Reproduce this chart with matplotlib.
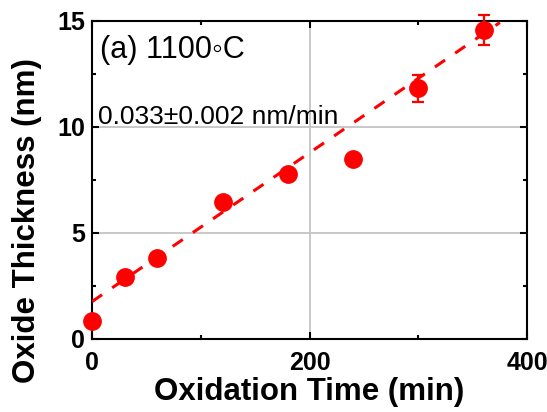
import matplotlib
import matplotlib.pyplot as plt
from matplotlib.ticker import MultipleLocator

matplotlib.use("Agg")

plt.rcParams["font.family"] = ["Liberation Sans", "DejaVu Sans"]

# Oxidation data at 1100 C
time_min = [0, 30, 60, 120, 180, 240, 300, 360]
thickness_nm = [0.83, 2.92, 3.81, 6.42, 7.76, 8.47, 11.8, 14.55]
thickness_err = [0, 0, 0, 0, 0, 0, 0.63, 0.72]

# Linear fit as drawn (intercept, slope), and its extent
fit_intercept = 1.74
fit_slope = 0.0351
fit_x = [0, 375]

fig = plt.figure(figsize=(5.47, 4.12), dpi=100)
ax = fig.add_axes([92 / 547, 1 - 338.5 / 412, 435 / 547, 318 / 412])

fit_y = [fit_intercept + fit_slope * x for x in fit_x]
ax.plot(fit_x, fit_y, color="red", linestyle=(0, (4, 4)), linewidth=2.2, zorder=3)

ax.errorbar(time_min, thickness_nm, yerr=thickness_err, fmt="o", color="red",
            markersize=12.5, elinewidth=1.6, capsize=4.5, capthick=1.6, zorder=4,
            clip_on=False)

ax.set_xlim(0, 400)
ax.set_ylim(0, 15)
ax.xaxis.set_major_locator(MultipleLocator(200))
ax.xaxis.set_minor_locator(MultipleLocator(100))
ax.yaxis.set_major_locator(MultipleLocator(5))
ax.yaxis.set_minor_locator(MultipleLocator(2.5))
ax.tick_params(which="both", direction="in", top=True, right=True, width=1.5)
ax.tick_params(which="major", length=5, labelsize=18)
ax.tick_params(axis="x", which="major", pad=9)
ax.tick_params(axis="y", which="major", pad=5)
ax.tick_params(which="minor", length=3)
for lab in ax.get_xticklabels() + ax.get_yticklabels():
    lab.set_fontweight("bold")

ax.grid(True, which="major", color="#c4c4c4", linewidth=1.3)
ax.set_axisbelow(True)
for s in ax.spines.values():
    s.set_linewidth(1.5)

ax.set_xlabel("Oxidation Time (min)", fontsize=22.5, fontweight="bold")
ax.set_ylabel("Oxide Thickness (nm)", fontsize=22.5, fontweight="bold")
ax.xaxis.set_label_coords(0.498, -0.122)
ax.yaxis.set_label_coords(-0.115, 0.37)

ax.text(0.018, 0.955, "(a) 1100\u25e6C", transform=ax.transAxes, fontsize=22,
        va="top", ha="left")
ax.text(0.013, 0.735, "0.033\u00b10.002 nm/min", transform=ax.transAxes, fontsize=19,
        va="top", ha="left")

fig.savefig("out.png", dpi=100)
